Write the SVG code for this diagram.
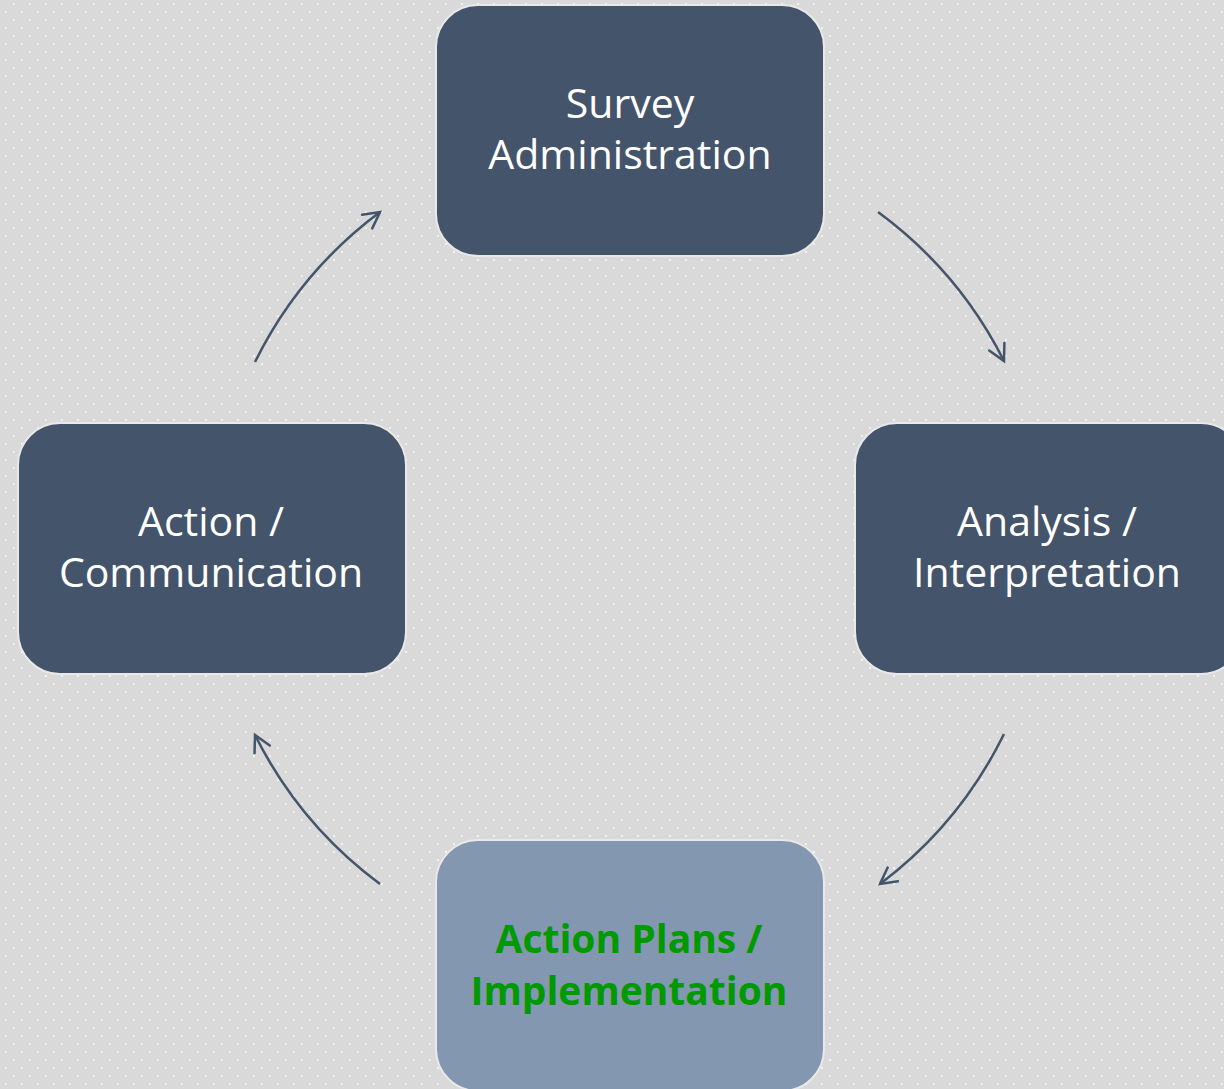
<svg xmlns="http://www.w3.org/2000/svg" width="1224" height="1089" viewBox="0 0 1224 1089">
<defs>
<pattern id="dots" x="0" y="0" width="16" height="16" patternUnits="userSpaceOnUse">
<rect x="13" y="3" width="2" height="2" fill="#f2f2f2"/>
<rect x="5" y="11" width="2" height="2" fill="#f2f2f2"/>
</pattern>
<marker id="arrow" markerUnits="userSpaceOnUse" markerWidth="40" markerHeight="40" viewBox="-20 -20 40 40" refX="0" refY="0" orient="auto">
<path d="M -16 -8.5 L 0 0 L -16 8.5" fill="none" stroke="#44546a" stroke-width="2.5" stroke-linecap="round" stroke-linejoin="miter"/>
</marker>
<style>
.box { fill: #44546a; stroke: #e9e9e9; stroke-width: 2; }
.box.light { fill: #8497b0; }
.lbl { font-family: "Open Sans", "Liberation Sans", sans-serif; font-size: 41px; fill: #ffffff; text-anchor: middle; }
.lbl.hl { font-weight: bold; font-size: 39px; fill: #009900; }
.conn { fill: none; stroke: #44546a; stroke-width: 2.5; marker-end: url(#arrow); }
</style>
</defs>
<rect width="1224" height="1089" fill="#d9d9d9"/>
<rect width="1224" height="1089" fill="url(#dots)"/>
<g id="connectors">
<path class="conn" d="M 878 212 A 418 418 0 0 1 1004 361"/>
<path class="conn" d="M 1004 734 A 418 418 0 0 1 880 884"/>
<path class="conn" d="M 380 884 A 418 418 0 0 1 255 735"/>
<path class="conn" d="M 255 362 A 418 418 0 0 1 380 212"/>
</g>
<g id="survey-administration">
<rect class="box" x="436" y="5" width="388" height="251" rx="42" ry="42"/>
<text class="lbl" x="630" y="118">Survey</text>
<text class="lbl" x="630" y="169">Administration</text>
</g>
<g id="analysis-interpretation">
<rect class="box" x="855" y="423" width="388" height="251" rx="42" ry="42"/>
<text class="lbl" x="1047" y="536">Analysis /</text>
<text class="lbl" x="1047" y="587">Interpretation</text>
</g>
<g id="action-plans-implementation">
<rect class="box light" x="436" y="840" width="388" height="251" rx="42" ry="42"/>
<text class="lbl hl" x="629" y="953">Action Plans /</text>
<text class="lbl hl" x="629" y="1005">Implementation</text>
</g>
<g id="action-communication">
<rect class="box" x="18" y="423" width="388" height="251" rx="42" ry="42"/>
<text class="lbl" x="211" y="536">Action /</text>
<text class="lbl" x="211" y="587">Communication</text>
</g>
</svg>
